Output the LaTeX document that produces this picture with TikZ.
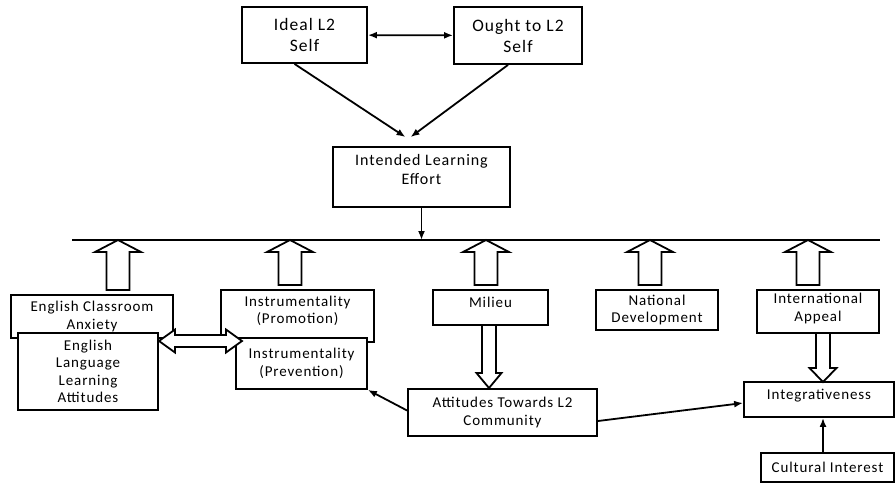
\documentclass[tikz,border=0pt]{standalone}
\usepackage{fontspec}
\setmainfont{Carlito}[LetterSpace=6]
\usetikzlibrary{arrows.meta}

\tikzset{
	box/.style={draw, line width=1.8pt, fill=white, align=center, inner sep=2pt,
		font=\fontsize{15}{17.5}\selectfont},
	bigbox/.style={box, font=\fontsize{17.5}{21}\selectfont},
	lift/.style={text depth=#1},
	conn/.style={line width=1.8pt, -{Latex[length=9pt,width=7pt]}},
	biconn/.style={line width=1.8pt, {Latex[length=9pt,width=7pt]}-{Latex[length=9pt,width=7pt]}},
	blockarrow/.style={draw, line width=1.8pt, fill=white, line join=miter},
}

\begin{document}
\begin{tikzpicture}[x=1pt, y=-1pt]

\useasboundingbox (0, 0) rectangle (896, 483);

\node[bigbox, minimum width=125pt, minimum height=56pt] (ideal) at (304.5, 35) {Ideal L2\\Self};
\node[bigbox, minimum width=128pt, minimum height=57pt] (ought) at (518, 35.5) {Ought to L2\\Self};
\node[box, font=\fontsize{16}{19}\selectfont, lift=16pt, minimum width=177pt, minimum height=60pt] (intended) at (421.5, 177) {Intended Learning\\Effort};

\draw[biconn] (ideal) -- (ought);
\draw[conn] ([xshift=-10pt]ideal.south) -- ([xshift=-16pt, yshift=9pt]intended.north);
\draw[conn] ([xshift=-10pt]ought.south) -- ([xshift=-11pt, yshift=9pt]intended.north);

% the bar
\coordinate (barL) at (72, 240);
\coordinate (barR) at (880, 240);
\draw[line width=1.8pt] (barL) -- (barR);
\draw[conn] (intended) -- (intended |- barL);

% hollow arrows up to the bar
\foreach \x/\b in {118/290, 290/285, 486/285, 650/285, 808/285}
	\draw[blockarrow] (\x-11.5, \b) -- (\x-11.5, 252) -- (\x-23, 252) -- (\x, 240)
		-- (\x+23, 252) -- (\x+11.5, 252) -- (\x+11.5, \b) -- cycle;

\node[box, minimum width=162pt, minimum height=43pt] (anxiety) at (92, 316.5) {English Classroom\\Anxiety};
\node[box, minimum width=140pt, minimum height=77pt] (ella) at (88, 371.5) {English\\Language\\Learning\\Attitudes};

\node[box, lift=12pt, minimum width=153pt, minimum height=52pt] (promo) at (297.5, 316) {Instrumentality\\(Promotion)};
\node[box, minimum width=131pt, minimum height=51pt] (prev) at (301.5, 363.5) {Instrumentality\\(Prevention)};

\node[box, lift=11pt, minimum width=115pt, minimum height=35pt] (milieu) at (490.5, 307.5) {Milieu};
\node[box, minimum width=122pt, minimum height=40pt] (natdev) at (657, 310) {National\\Development};
\node[box, lift=8pt, minimum width=122pt, minimum height=43pt] (intapp) at (818, 311.5) {International\\Appeal};

\node[box, minimum width=189pt, minimum height=47pt] (attl2) at (502.5, 412.5) {Attitudes Towards L2\\Community};
\node[box, lift=11pt, minimum width=150pt, minimum height=35pt] (integ) at (819, 399.5) {Integrativeness};
\node[box, minimum width=133pt, minimum height=29pt] (cult) at (827.5, 467.5) {Cultural Interest};

% hollow double arrow
\draw[blockarrow] (159, 341) -- (175, 329.5) -- (175, 335) -- (226, 335) -- (226, 329.5)
	-- (242, 341) -- (226, 352.5) -- (226, 347) -- (175, 347) -- (175, 352.5) -- cycle;

% hollow arrows down
\draw[blockarrow] (482, 325) -- (482, 373) -- (476.5, 373) -- (489, 388) -- (501.5, 373)
	-- (496, 373) -- (496, 325) -- cycle;
\draw[blockarrow] (816, 333) -- (816, 368) -- (809.5, 368) -- (823, 382) -- (836.5, 368)
	-- (830, 368) -- (830, 333) -- cycle;

\draw[conn] ([yshift=2pt]attl2.west) -- (prev.south east);
\draw[conn] ([yshift=-8.5pt]attl2.east) -- ([yshift=-3.5pt]integ.west);
\draw[conn] ([xshift=-4.5pt]cult.north) -- ([xshift=-4.5pt]cult.north |- integ.south);

\end{tikzpicture}
\end{document}
